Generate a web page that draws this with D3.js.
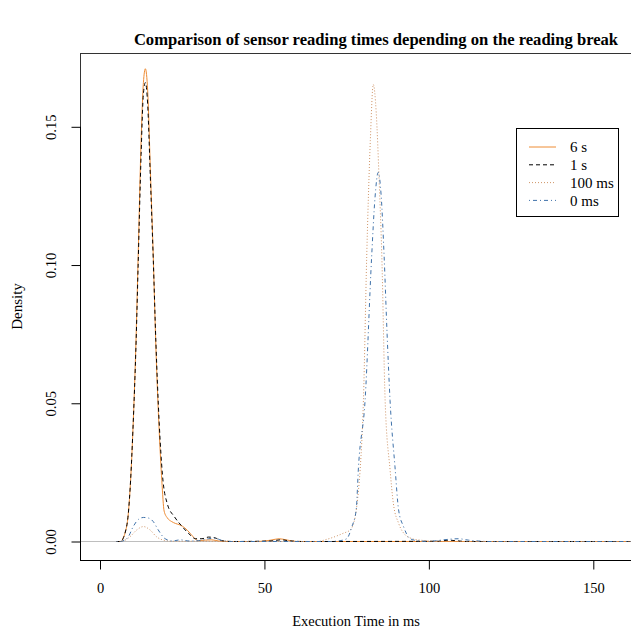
<!DOCTYPE html>
<html>
<head>
<meta charset="utf-8">
<script src="https://cdn.jsdelivr.net/npm/d3@7"></script>
<style>
  body { margin: 0; background: #fff; }
  svg text { font-family: "Liberation Serif", "DejaVu Serif", serif; fill: #000; }
</style>
</head>
<body>
<div id="chart"></div>
<script>
'use strict'

// density estimates, [execution time ms, density]
const series6s = [
  [5, 0], [6.5, 0], [7, 0.0012], [7.6, 0.003], [8.6, 0.010], [9.3, 0.022], [10, 0.040],
  [11, 0.075], [11.6, 0.103], [12.5, 0.145], [13.2, 0.166], [13.8, 0.171], [14.5, 0.163],
  [15.3, 0.135], [16.2, 0.103], [17, 0.070], [18, 0.040], [18.8, 0.022], [19.5, 0.011],
  [20.5, 0.0085], [21.8, 0.0072], [23, 0.0065], [24.3, 0.006], [25.8, 0.0049], [27.4, 0.003],
  [28.9, 0.001], [30, 0.0003], [32, 0.0005], [34, 0.0006], [36, 0.0002], [40, 0], [48, 0],
  [52, 0.0005], [54.5, 0.001], [57, 0.0005], [60, 0], [165, 0]
]
const series1s = [
  [5, 0], [6.5, 0], [7, 0.001], [7.6, 0.003], [8.6, 0.010], [9.3, 0.022], [10, 0.040],
  [11, 0.073], [11.6, 0.100], [12.5, 0.140], [13.2, 0.162], [13.8, 0.166], [14.5, 0.158],
  [15.3, 0.132], [16.2, 0.102], [17, 0.072], [18, 0.043], [19, 0.024], [20.5, 0.0135],
  [22.6, 0.009], [25, 0.0054], [27.4, 0.0024], [29, 0.001], [31, 0.001], [33, 0.0016],
  [35, 0.0013], [37, 0.0003], [40, 0], [52, 0.0002], [55, 0.0006], [58, 0.0002], [62, 0],
  [103, 0.0001], [106, 0.0005], [108, 0.0003], [112, 0], [165, 0]
]
const series100ms = [
  [5, 0], [6, 0], [7.1, 0.0002], [9.1, 0.0017], [11.2, 0.0042], [13.2, 0.0054], [15.2, 0.0042],
  [17.2, 0.0017], [19.3, 0.0005], [22, 0.0001], [30, 0.0001], [40, 0], [66, 0],
  [69, 0.0008], [72, 0.002], [74, 0.003], [76.1, 0.0042], [77.6, 0.009], [78.6, 0.0186],
  [79.1, 0.026], [80.1, 0.051], [81.1, 0.103], [82.2, 0.145], [83.1, 0.1653], [84, 0.155],
  [84.9, 0.13], [85.7, 0.103], [86.7, 0.051], [88.2, 0.026], [89.2, 0.0138], [90.8, 0.0066],
  [92.8, 0.0024], [95, 0.001], [97.3, 0.0005], [100, 0.0002], [104, 0], [165, 0]
]
const series0ms = [
  [5, 0], [6, 0], [7.5, 0.0005], [8.6, 0.0017], [10.1, 0.0054], [11.7, 0.008], [13.2, 0.0087],
  [14.7, 0.0085], [16.2, 0.0072], [17.7, 0.0042], [19.8, 0.001], [22, 0.0002], [24.5, 0.0006],
  [27, 0.0002], [30, 0.0003], [33, 0.0010], [35, 0.0012], [37, 0.0004], [40, 0], [70, 0],
  [73, 0.0003], [75, 0.001], [76.6, 0.0054], [77.9, 0.0114], [78.6, 0.027], [80.6, 0.051],
  [82.6, 0.103], [83.6, 0.124], [84.6, 0.1335], [85.5, 0.125], [86.4, 0.103], [87.3, 0.075],
  [88.2, 0.051], [89.7, 0.027], [90.8, 0.0114], [92.3, 0.0054], [94.3, 0.001], [97, 0.0002],
  [100, 0], [103, 0.0004], [106, 0.0008], [109, 0.0010], [112, 0.0005], [115, 0.0002],
  [118, 0], [165, 0]
]

const seriesNames = ['6 s', '1 s', '100 ms', '0 ms']
const seriesData = [series6s, series1s, series100ms, series0ms]
const seriesColors = ['#ee8c35', '#000000', '#cf9466', '#3f72aa']
const seriesDashes = [null, '4 3', '1 2', '1 3 4 3']

const xTicks = [0, 50, 100, 150]
const yTicks = [0, 0.05, 0.10, 0.15]

const width = 631
const height = 631
const plot = { left: 80, top: 53, right: 632, bottom: 560 }

const svg = d3.select('#chart')
  .append('svg')
  .attr('width', width)
  .attr('height', height)

const x = d3.scaleLinear().domain([0, 150]).range([100, 593.3])
const y = d3.scaleLinear().domain([0, 0.15]).range([541.5, 126.8])

// clip curves to plot region
svg.append('clipPath')
  .attr('id', 'plotclip')
  .append('rect')
  .attr('x', plot.left)
  .attr('y', plot.top)
  .attr('width', plot.right - plot.left)
  .attr('height', plot.bottom - plot.top)

const line = d3.line()
  .x(d => x(d[0]))
  .y(d => y(d[1]))
  .curve(d3.curveMonotoneX)

const curves = svg.append('g').attr('clip-path', 'url(#plotclip)')

// zero line
curves.append('line')
  .attr('x1', plot.left)
  .attr('x2', plot.right)
  .attr('y1', y(0))
  .attr('y2', y(0))
  .attr('stroke', '#bebebe')
  .attr('stroke-width', 1)

curves.selectAll('path.density')
  .data(seriesData)
  .enter()
  .append('path')
  .attr('class', 'density')
  .attr('d', d => line(d))
  .attr('fill', 'none')
  .attr('stroke', (d, i) => seriesColors[i])
  .attr('stroke-width', 1)
  .attr('stroke-dasharray', (d, i) => seriesDashes[i])

// box
svg.append('rect')
  .attr('x', plot.left + 0.5)
  .attr('y', plot.top + 0.5)
  .attr('width', plot.right - plot.left)
  .attr('height', plot.bottom - plot.top)
  .attr('fill', 'none')
  .attr('stroke', '#333')
  .attr('stroke-width', 1)

// x axis
const xAxis = svg.append('g')
  .attr('transform', `translate(0,${plot.bottom + 0.5})`)
  .call(d3.axisBottom(x).tickValues(xTicks).tickSize(9).tickPadding(13).tickFormat(d3.format('d')))
xAxis.select('.domain').remove()
xAxis.append('line')
  .attr('x1', plot.left)
  .attr('x2', plot.right)
  .attr('stroke', '#000')
xAxis.selectAll('text').attr('font-size', 14.5).attr('font-family', 'Liberation Serif')

// y axis
const yAxis = svg.append('g')
  .attr('transform', `translate(${plot.left + 0.5},0)`)
  .call(d3.axisLeft(y).tickValues(yTicks).tickSize(9).tickFormat(d3.format('.2f')))
yAxis.select('.domain').remove()
yAxis.append('line')
  .attr('y1', y(0.15))
  .attr('y2', plot.bottom)
  .attr('stroke', '#000')
yAxis.selectAll('.tick text')
  .attr('x', 0)
  .attr('dy', 0)
  .attr('text-anchor', 'middle')
  .attr('transform', 'translate(-25,0) rotate(-90)')
  .attr('font-size', 14.5)
  .attr('font-family', 'Liberation Serif')

// title and axis labels
svg.append('text')
  .attr('x', 376)
  .attr('y', 45)
  .attr('text-anchor', 'middle')
  .attr('font-size', 16.6)
  .attr('font-weight', 'bold')
  .text('Comparison of sensor reading times depending on the reading break')

svg.append('text')
  .attr('x', 356)
  .attr('y', 626)
  .attr('text-anchor', 'middle')
  .attr('font-size', 14.5)
  .text('Execution Time in ms')

svg.append('text')
  .attr('transform', `translate(22,${(plot.top + plot.bottom) / 2}) rotate(-90)`)
  .attr('text-anchor', 'middle')
  .attr('font-size', 15)
  .text('Density')

// legend
const legend = svg.append('g').attr('class', 'legend')
legend.append('rect')
  .attr('x', 516.5)
  .attr('y', 128.5)
  .attr('width', 102)
  .attr('height', 88)
  .attr('fill', '#fff')
  .attr('stroke', '#000')

const legendItem = legend.selectAll('g.item')
  .data(seriesNames)
  .enter()
  .append('g')
  .attr('class', 'item')
  .attr('transform', (d, i) => `translate(0,${147 + i * 17.8})`)

legendItem.append('line')
  .attr('x1', 529)
  .attr('x2', 556)
  .attr('stroke', (d, i) => seriesColors[i])
  .attr('stroke-dasharray', (d, i) => seriesDashes[i])

legendItem.append('text')
  .attr('x', 570)
  .attr('dy', '0.35em')
  .attr('font-size', 15)
  .text(d => d)
</script>
</body>
</html>
